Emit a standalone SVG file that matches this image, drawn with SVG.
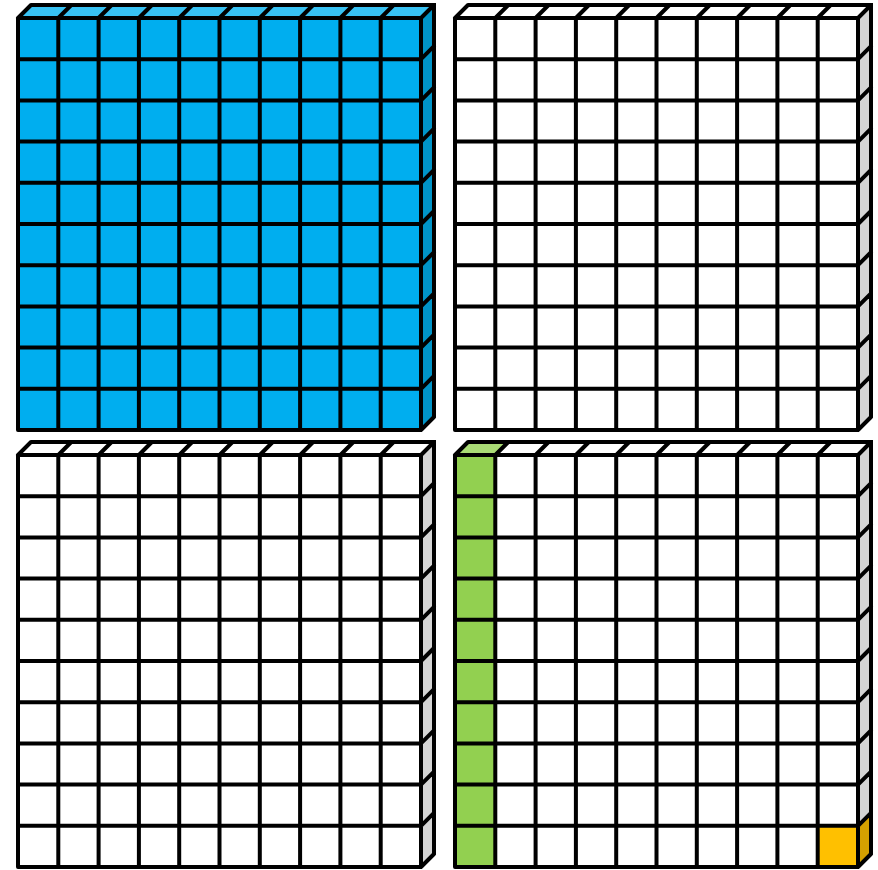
<svg xmlns="http://www.w3.org/2000/svg" xmlns:xlink="http://www.w3.org/1999/xlink" width="878" height="870" viewBox="0 0 878 870">
<style>
.grid{fill:none;stroke:#000;stroke-width:4;stroke-linejoin:miter;stroke-linecap:round}
.blue-front{fill:#00AEEF}.blue-top{fill:#38C2F3}.blue-side{fill:#0094C8}
.white-front{fill:#FFFFFF}.white-top{fill:#FFFFFF}.white-side{fill:#D4D4D4}
.green-front{fill:#92D050}.green-top{fill:#A9DB75}
.orange-front{fill:#FFC000}.orange-side{fill:#D4A000}
</style>
<defs>
<path id="grid" class="grid" d="M0 0V412M40.3 0V412M80.6 0V412M120.9 0V412M161.2 0V412M201.5 0V412M241.8 0V412M282.1 0V412M322.4 0V412M362.7 0V412M403 0V412
M0 0H403M0 41.2H403M0 82.4H403M0 123.6H403M0 164.8H403M0 206H403M0 247.2H403M0 288.4H403M0 329.6H403M0 370.8H403M0 412H403
M0 0l13 -13M40.3 0l13 -13M80.6 0l13 -13M120.9 0l13 -13M161.2 0l13 -13M201.5 0l13 -13M241.8 0l13 -13M282.1 0l13 -13M322.4 0l13 -13M362.7 0l13 -13M403 0l13 -13
M403 41.2l13 -13M403 82.4l13 -13M403 123.6l13 -13M403 164.8l13 -13M403 206l13 -13M403 247.2l13 -13M403 288.4l13 -13M403 329.6l13 -13M403 370.8l13 -13M403 412l13 -13
M13 -13H416V399"/>
<rect id="front" x="0" y="0" width="403" height="412"/>
<polygon id="top" points="0,0 13,-13 416,-13 403,0"/>
<polygon id="side" points="403,0 416,-13 416,399 403,412"/>
</defs>
<g id="flat-blue" transform="translate(18 18)">
<use xlink:href="#front" class="blue-front"/>
<use xlink:href="#top" class="blue-top"/>
<use xlink:href="#side" class="blue-side"/>
<use xlink:href="#grid"/>
</g>
<g id="flat-white-1" transform="translate(455 18)">
<use xlink:href="#front" class="white-front"/>
<use xlink:href="#top" class="white-top"/>
<use xlink:href="#side" class="white-side"/>
<use xlink:href="#grid"/>
</g>
<g id="flat-white-2" transform="translate(18 455)">
<use xlink:href="#front" class="white-front"/>
<use xlink:href="#top" class="white-top"/>
<use xlink:href="#side" class="white-side"/>
<use xlink:href="#grid"/>
</g>
<g id="flat-mixed" transform="translate(455 455)">
<use xlink:href="#front" class="white-front"/>
<use xlink:href="#top" class="white-top"/>
<use xlink:href="#side" class="white-side"/>
<rect class="green-front" x="0" y="0" width="40.3" height="412"/>
<polygon class="green-top" points="0,0 13,-13 53.3,-13 40.3,0"/>
<rect class="orange-front" x="362.7" y="370.8" width="40.3" height="41.2"/>
<polygon class="orange-side" points="403,370.8 416,357.8 416,399 403,412"/>
<use xlink:href="#grid"/>
</g>
</svg>
